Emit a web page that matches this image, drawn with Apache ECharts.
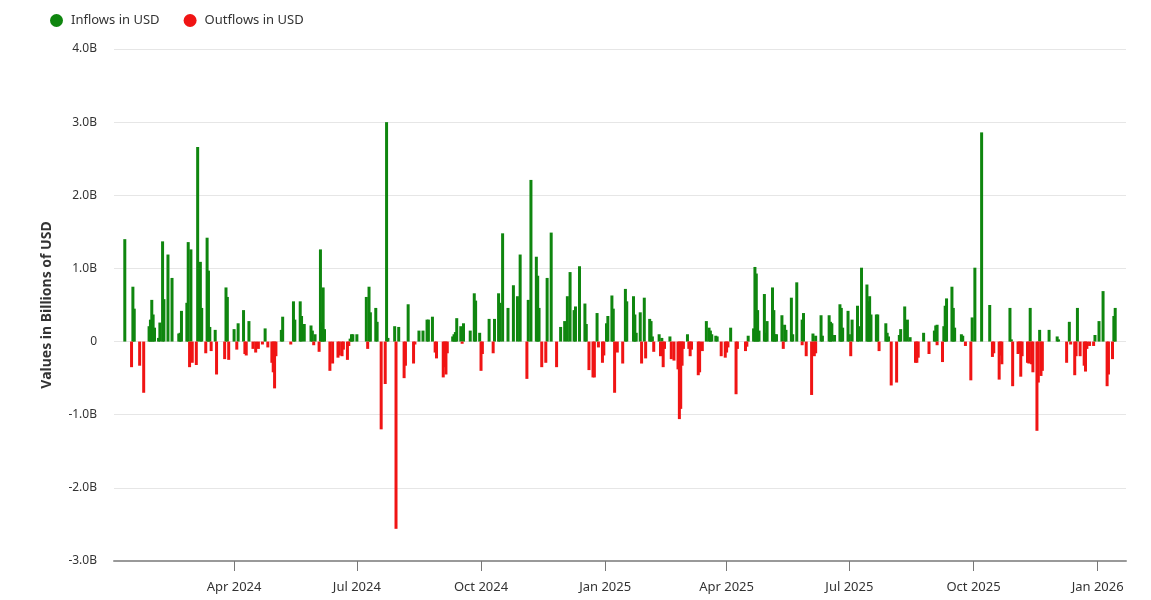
<!DOCTYPE html>
<html>
<head>
<meta charset="utf-8">
<title>Daily ETF flows</title>
<script src="https://cdn.jsdelivr.net/npm/echarts@6/dist/echarts.min.js"></script>
<style>
  html, body { margin: 0; padding: 0; background: #fff; }
  #chart { width: 1151px; height: 600px; }
</style>
</head>
<body>
<div id="chart"></div>
<script>
// daily flows, billions of USD
const inflowDates = [
  '2024-01-11','2024-01-17','2024-01-18','2024-01-29','2024-01-30','2024-01-31','2024-02-01','2024-02-02',
  '2024-02-05','2024-02-06','2024-02-08','2024-02-09','2024-02-12','2024-02-15','2024-02-20','2024-02-21',
  '2024-02-22','2024-02-26','2024-02-27','2024-02-29','2024-03-05','2024-03-07','2024-03-08','2024-03-12',
  '2024-03-13','2024-03-14','2024-03-18','2024-03-26','2024-03-27','2024-04-01','2024-04-04','2024-04-08',
  '2024-04-12','2024-04-24','2024-05-06','2024-05-07','2024-05-15','2024-05-16','2024-05-20','2024-05-21',
  '2024-05-23','2024-05-28','2024-05-29','2024-05-31','2024-06-04','2024-06-05','2024-06-06','2024-06-07',
  '2024-06-26','2024-06-27','2024-06-28','2024-07-01','2024-07-08','2024-07-10','2024-07-11','2024-07-15',
  '2024-07-16','2024-07-23','2024-07-24','2024-07-29','2024-08-01','2024-08-08','2024-08-16','2024-08-19',
  '2024-08-22','2024-08-23','2024-08-26','2024-09-10','2024-09-11','2024-09-12','2024-09-13','2024-09-16',
  '2024-09-18','2024-09-23','2024-09-26','2024-09-27','2024-09-30','2024-10-07','2024-10-11','2024-10-14',
  '2024-10-15','2024-10-17','2024-10-21','2024-10-25','2024-10-28','2024-10-30','2024-11-05','2024-11-07',
  '2024-11-11','2024-11-12','2024-11-13','2024-11-19','2024-11-22','2024-11-29','2024-12-02','2024-12-04',
  '2024-12-06','2024-12-09','2024-12-10','2024-12-13','2024-12-17','2024-12-18','2024-12-26','2025-01-02',
  '2025-01-03','2025-01-06','2025-01-07','2025-01-16','2025-01-17','2025-01-22','2025-01-23','2025-01-24',
  '2025-01-27','2025-01-30','2025-02-03','2025-02-04','2025-02-05','2025-02-10','2025-02-12','2025-02-18',
  '2025-03-03','2025-03-17','2025-03-19','2025-03-20','2025-03-21','2025-03-24','2025-03-25','2025-04-04',
  '2025-04-17','2025-04-21','2025-04-22','2025-04-23','2025-04-24','2025-04-25','2025-04-29','2025-04-30',
  '2025-05-01','2025-05-05','2025-05-06','2025-05-07','2025-05-08','2025-05-12','2025-05-14','2025-05-15',
  '2025-05-19','2025-05-20','2025-05-23','2025-05-27','2025-05-28','2025-06-04','2025-06-06','2025-06-10',
  '2025-06-11','2025-06-16','2025-06-17','2025-06-18','2025-06-20','2025-06-24','2025-06-25','2025-06-26',
  '2025-06-30','2025-07-01','2025-07-03','2025-07-07','2025-07-08','2025-07-10','2025-07-14','2025-07-15',
  '2025-07-16','2025-07-17','2025-07-21','2025-07-22','2025-07-28','2025-07-29','2025-07-30','2025-08-07',
  '2025-08-08','2025-08-11','2025-08-13','2025-08-15','2025-08-25','2025-09-02','2025-09-03','2025-09-04',
  '2025-09-09','2025-09-10','2025-09-11','2025-09-15','2025-09-16','2025-09-17','2025-09-22','2025-09-23',
  '2025-09-30','2025-10-02','2025-10-07','2025-10-13','2025-10-28','2025-10-29','2025-11-12','2025-11-19',
  '2025-11-26','2025-12-02','2025-12-03','2025-12-11','2025-12-17','2025-12-30','2026-01-02','2026-01-05',
  '2026-01-13','2026-01-14'
]
const inflowValues = [
  1.40, 0.75, 0.45, 0.21, 0.30, 0.57, 0.37, 0.19,
  0.05, 0.26, 1.37, 0.58, 1.19, 0.87, 0.11, 0.12,
  0.42, 0.53, 1.36, 1.26, 2.66, 1.09, 0.46, 1.42,
  0.97, 0.20, 0.16, 0.74, 0.61, 0.17, 0.25, 0.43,
  0.28, 0.18, 0.16, 0.34, 0.55, 0.30, 0.55, 0.35,
  0.24, 0.22, 0.15, 0.10, 1.26, 0.26, 0.74, 0.17,
  0.04, 0.10, 0.10, 0.10, 0.61, 0.75, 0.40, 0.46,
  0.27, 3.00, 0.05, 0.21, 0.20, 0.51, 0.15, 0.15,
  0.30, 0.30, 0.34, 0.07, 0.10, 0.13, 0.32, 0.21,
  0.25, 0.15, 0.66, 0.56, 0.12, 0.31, 0.31, 0.66,
  0.53, 1.48, 0.46, 0.77, 0.62, 1.19, 0.57, 2.21,
  1.16, 0.90, 0.46, 0.87, 1.49, 0.20, 0.28, 0.62,
  0.95, 0.43, 0.48, 1.03, 0.52, 0.24, 0.39, 0.25,
  0.35, 0.63, 0.45, 0.72, 0.55, 0.62, 0.37, 0.12,
  0.40, 0.60, 0.31, 0.28, 0.07, 0.10, 0.05, 0.07,
  0.10, 0.28, 0.19, 0.15, 0.10, 0.08, 0.07, 0.19,
  0.08, 0.18, 1.02, 0.93, 0.43, 0.15, 0.65, 0.12,
  0.28, 0.74, 0.43, 0.10, 0.10, 0.36, 0.23, 0.16,
  0.60, 0.10, 0.81, 0.30, 0.39, 0.11, 0.08, 0.36,
  0.08, 0.36, 0.27, 0.25, 0.09, 0.51, 0.46, 0.19,
  0.42, 0.10, 0.30, 0.49, 0.21, 1.01, 0.78, 0.55,
  0.62, 0.37, 0.37, 0.37, 0.25, 0.12, 0.07, 0.09,
  0.17, 0.48, 0.30, 0.06, 0.12, 0.15, 0.22, 0.23,
  0.21, 0.49, 0.59, 0.75, 0.46, 0.19, 0.10, 0.08,
  0.33, 1.01, 2.86, 0.50, 0.46, 0.03, 0.46, 0.16,
  0.16, 0.07, 0.03, 0.27, 0.46, 0.09, 0.28, 0.69,
  0.35, 0.46
]
const outflowDates = [
  '2024-01-16','2024-01-22','2024-01-25','2024-02-28','2024-03-01','2024-03-04','2024-03-11','2024-03-15',
  '2024-03-19','2024-03-25','2024-03-28','2024-04-03','2024-04-09','2024-04-10','2024-04-15','2024-04-17',
  '2024-04-19','2024-04-22','2024-04-26','2024-04-29','2024-04-30','2024-05-01','2024-05-02','2024-05-13',
  '2024-05-30','2024-06-03','2024-06-11','2024-06-13','2024-06-17','2024-06-18','2024-06-20','2024-06-21',
  '2024-06-24','2024-06-25','2024-07-09','2024-07-19','2024-07-22','2024-07-30','2024-08-05','2024-08-06',
  '2024-08-12','2024-08-13','2024-08-28','2024-08-29','2024-09-03','2024-09-04','2024-09-05','2024-09-06',
  '2024-09-17','2024-10-01','2024-10-02','2024-10-10','2024-11-04','2024-11-15','2024-11-18','2024-11-26',
  '2024-12-20','2024-12-23','2024-12-24','2024-12-27','2024-12-30','2024-12-31','2025-01-08','2025-01-10',
  '2025-01-14','2025-01-28','2025-01-31','2025-02-06','2025-02-11','2025-02-13','2025-02-14','2025-02-19',
  '2025-02-21','2025-02-24','2025-02-25','2025-02-26','2025-02-27','2025-02-28','2025-03-04','2025-03-05',
  '2025-03-06','2025-03-11','2025-03-12','2025-03-14','2025-03-28','2025-03-31','2025-04-01','2025-04-02',
  '2025-04-08','2025-04-09','2025-04-15','2025-04-16','2025-05-13','2025-05-27','2025-05-30','2025-06-03',
  '2025-06-05','2025-06-06','2025-07-02','2025-07-23','2025-08-01','2025-08-05','2025-08-19','2025-08-20',
  '2025-08-21','2025-08-29','2025-09-04','2025-09-08','2025-09-25','2025-09-29','2025-10-15','2025-10-16',
  '2025-10-20','2025-10-21','2025-10-22','2025-10-30','2025-11-03','2025-11-04','2025-11-05','2025-11-06',
  '2025-11-10','2025-11-11','2025-11-13','2025-11-14','2025-11-17','2025-11-18','2025-11-20','2025-11-21',
  '2025-12-09','2025-12-12','2025-12-15','2025-12-16','2025-12-19','2025-12-22','2025-12-23','2025-12-24',
  '2025-12-26','2025-12-29','2026-01-08','2026-01-09','2026-01-12'
]
const outflowValues = [
  -0.35, -0.33, -0.70, -0.35, -0.29, -0.32, -0.16, -0.13,
  -0.45, -0.24, -0.25, -0.11, -0.17, -0.19, -0.10, -0.15,
  -0.10, -0.04, -0.08, -0.29, -0.42, -0.64, -0.20, -0.04,
  -0.05, -0.14, -0.40, -0.30, -0.22, -0.19, -0.20, -0.11,
  -0.25, -0.06, -0.10, -1.20, -0.58, -2.56, -0.50, -0.33,
  -0.30, -0.04, -0.15, -0.23, -0.49, -0.35, -0.45, -0.16,
  -0.03, -0.40, -0.17, -0.16, -0.51, -0.35, -0.29, -0.35,
  -0.39, -0.49, -0.49, -0.08, -0.29, -0.19, -0.70, -0.15,
  -0.30, -0.30, -0.23, -0.14, -0.20, -0.35, -0.10, -0.24,
  -0.26, -0.38, -1.06, -0.92, -0.33, -0.10, -0.10, -0.20,
  -0.11, -0.46, -0.42, -0.13, -0.20, -0.22, -0.15, -0.08,
  -0.72, -0.10, -0.13, -0.07, -0.10, -0.05, -0.20, -0.73,
  -0.20, -0.16, -0.20, -0.13, -0.60, -0.56, -0.29, -0.29,
  -0.22, -0.17, -0.05, -0.28, -0.06, -0.53, -0.21, -0.16,
  -0.52, -0.19, -0.31, -0.61, -0.17, -0.16, -0.48, -0.20,
  -0.29, -0.30, -0.31, -0.42, -1.22, -0.56, -0.47, -0.40,
  -0.29, -0.04, -0.46, -0.20, -0.20, -0.33, -0.41, -0.10,
  -0.06, -0.06, -0.61, -0.45, -0.24
]
const quarterTicks = [
  '2024-04-01','2024-07-01','2024-10-01','2025-01-01',
  '2025-04-01','2025-07-01','2025-10-01','2026-01-01'
]
const monthNames = ['Jan','Feb','Mar','Apr','May','Jun','Jul','Aug','Sep','Oct','Nov','Dec']

// dates become plain timestamps on a value axis (UTC midnight)
const parseDay = s => Date.parse(s + 'T00:00:00Z')
const toPairs = (dates, values) => dates.map((d, i) => [parseDay(d), values[i]])

const chart = echarts.init(document.getElementById('chart'))

const fontFamily = '"Noto Sans", "Open Sans", sans-serif'
const tickValues = quarterTicks.map(parseDay)

chart.setOption({
  animation: false,
  textStyle: { fontFamily },
  legend: {
    left: 45,
    top: 9,
    icon: 'circle',
    itemWidth: 13,
    itemHeight: 13,
    itemGap: 24,
    textStyle: { color: '#333', fontSize: 13, padding: [0, 0, 0, 3] },
    data: ['Inflows in USD', 'Outflows in USD']
  },
  tooltip: { trigger: 'axis' },
  grid: {
    left: 114,
    right: 25,
    top: 49,
    bottom: 39
  },
  xAxis: {
    type: 'value',
    min: parseDay('2024-01-03'),
    max: parseDay('2026-01-22'),
    axisLine: { onZero: false, lineStyle: { color: '#999', width: 2 } },
    axisTick: {
      length: 10,
      customValues: tickValues,
      lineStyle: { color: '#777' }
    },
    axisLabel: {
      customValues: tickValues,
      color: '#333',
      fontSize: 13,
      margin: 20,
      formatter: val => {
        const d = new Date(val)
        return monthNames[d.getUTCMonth()] + ' ' + d.getUTCFullYear()
      }
    },
    splitLine: { show: false }
  },
  yAxis: {
    type: 'value',
    min: -3,
    max: 4,
    interval: 1,
    name: 'Values in Billions of USD',
    nameLocation: 'middle',
    nameGap: 60,
    nameTextStyle: { color: '#333', fontSize: 14, fontWeight: 'bold' },
    axisLabel: {
      color: '#333',
      fontSize: 12,
      margin: 17,
      formatter: v => (v === 0 ? '0' : v.toFixed(1) + 'B')
    },
    axisLine: { show: false },
    axisTick: { show: false },
    splitLine: { lineStyle: { color: '#e6e6e6' } }
  },
  series: [
    {
      name: 'Inflows in USD',
      type: 'bar',
      barWidth: 3,
      barGap: '-100%',
      itemStyle: { color: '#0f860f' },
      data: toPairs(inflowDates, inflowValues)
    },
    {
      name: 'Outflows in USD',
      type: 'bar',
      barWidth: 3,
      barGap: '-100%',
      itemStyle: { color: '#f01414' },
      data: toPairs(outflowDates, outflowValues)
    }
  ]
})

window.addEventListener('resize', () => chart.resize())
</script>
</body>
</html>
